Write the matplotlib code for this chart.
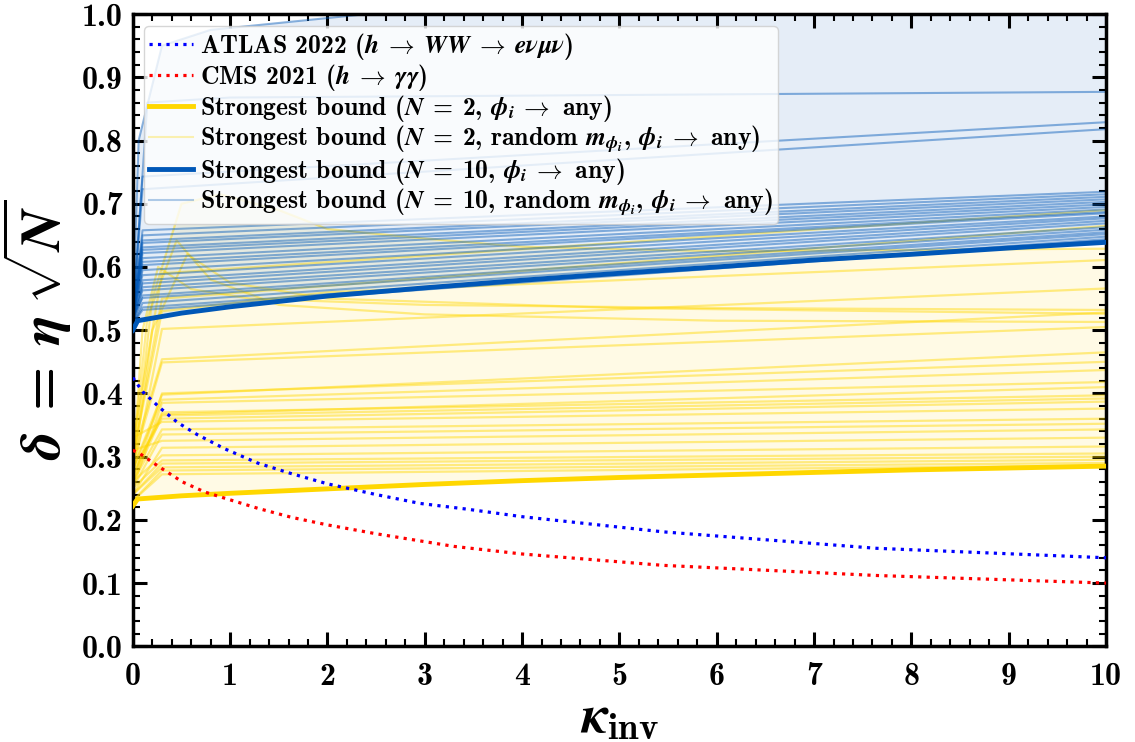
import numpy as np
import matplotlib
matplotlib.use("Agg")
import matplotlib.pyplot as plt
from matplotlib.ticker import MultipleLocator

plt.rcParams['font.family'] = 'cmb10'
plt.rcParams['mathtext.fontset'] = 'custom'
plt.rcParams['mathtext.rm'] = 'cmb10'
plt.rcParams['mathtext.bf'] = 'cmb10'
plt.rcParams['mathtext.it'] = 'STIXGeneral:italic:bold'
plt.rcParams['mathtext.fallback'] = 'cm'
plt.rcParams['axes.unicode_minus'] = False

# experimental limits
atlas_x = [0, 0.1, 0.28, 0.46, 0.66, 0.95, 1.28, 1.61, 2.0, 2.5, 2.95, 3.43, 4.0, 5.45, 7.64, 10]
atlas_y = [0.425, 0.403, 0.377, 0.354, 0.335, 0.312, 0.29, 0.274, 0.257, 0.240, 0.226, 0.217, 0.205, 0.181, 0.155, 0.140]
cms_x = [0, 0.07, 0.26, 0.51, 0.74, 0.95, 1.29, 1.63, 2.0, 2.5, 3.3, 4.0, 5.45, 7.64, 10]
cms_y = [0.31, 0.305, 0.285, 0.26, 0.244, 0.234, 0.218, 0.204, 0.192, 0.178, 0.158, 0.146, 0.128, 0.112, 0.100]

# strongest bounds
bound_x = [0, 0.05, 0.5, 1, 2, 3, 4, 5, 6, 7, 8, 9, 10]
bound2_y = [0.222, 0.233, 0.238, 0.242, 0.249, 0.256, 0.262, 0.267, 0.271, 0.275, 0.279, 0.282, 0.285]
bound10_y = [0.50, 0.515, 0.527, 0.537, 0.554, 0.567, 0.579, 0.590, 0.600, 0.611, 0.620, 0.630, 0.639]

# random masses, N=2 (values at kappa = 0, 0.3, 10)
rand2_x = [0, 0.3, 10]
rand2_start = [0.30, 0.29, 0.28, 0.27, 0.33, 0.26, 0.25, 0.31, 0.24, 0.26, 0.25, 0.24, 0.24, 0.23, 0.23,
               0.27, 0.26, 0.28, 0.25, 0.27, 0.26, 0.28, 0.30, 0.32]
rand2_left = [0.454, 0.449, 0.398, 0.367, 0.355, 0.343, 0.335, 0.325, 0.314, 0.302, 0.294, 0.289, 0.283, 0.278, 0.272,
              0.502, 0.40, 0.39, 0.385, 0.37, 0.365, 0.36, 0.55, 0.59]
rand2_right = [0.528, 0.505, 0.465, 0.41, 0.376, 0.36, 0.352, 0.343, 0.33, 0.316, 0.305, 0.30, 0.295, 0.29, 0.286,
               0.566, 0.45, 0.437, 0.418, 0.397, 0.392, 0.387, 0.665, 0.69]

# random masses, N=2, curved ones
curve2a_x = [0, 0.2, 0.5, 0.9, 1.5, 2, 3, 4, 6, 10]
curve2a_y = [0.28, 0.55, 0.70, 0.715, 0.69, 0.66, 0.645, 0.632, 0.625, 0.629]
curve2b_x = [0, 0.15, 0.45, 0.8, 1.5, 3, 6, 10]
curve2b_y = [0.30, 0.52, 0.642, 0.58, 0.54, 0.525, 0.515, 0.513]
curve2c_x = [0, 0.1, 0.26, 0.6, 1.2, 3, 6, 10]
curve2c_y = [0.28, 0.50, 0.60, 0.565, 0.55, 0.54, 0.535, 0.532]
curve2d_x = [0, 0.2, 0.56, 1.0, 2, 5, 10]
curve2d_y = [0.27, 0.50, 0.62, 0.575, 0.55, 0.535, 0.526]
curve2e_x = [0, 0.3, 2, 10]
curve2e_y = [0.30, 0.53, 0.56, 0.611]

# random masses, N=10 (values at kappa = 0, 0.1, 10)
rand10_x = [0, 0.1, 10]
rand10_start = [0.53, 0.52, 0.54, 0.51, 0.52, 0.53, 0.51, 0.52, 0.54, 0.51, 0.52, 0.53, 0.51, 0.52, 0.51,
                0.52, 0.51, 0.52, 0.51, 0.51, 0.51, 0.53, 0.52]
rand10_left = [0.658, 0.650, 0.642, 0.638, 0.631, 0.627, 0.622, 0.614, 0.608, 0.603, 0.595, 0.587, 0.579, 0.574, 0.568,
               0.563, 0.555, 0.551, 0.543, 0.536, 0.532, 0.743, 0.723]
rand10_right = [0.719, 0.715, 0.711, 0.707, 0.703, 0.699, 0.695, 0.691, 0.687, 0.685, 0.680, 0.677, 0.673, 0.669, 0.663,
                0.659, 0.655, 0.652, 0.648, 0.644, 0.642, 0.829, 0.818]
flat10_x = [0, 0.15, 1, 10]
flat10_y = [0.52, 0.86, 0.868, 0.877]
top10_x = [0, 0.06, 0.3, 0.8, 2.4, 10]
top10_y = [0.52, 0.80, 0.95, 0.975, 1.0, 1.1]

yellow = '#FFD700'
blue = '#0057B7'

fig = plt.figure(figsize=(11.35, 7.42), dpi=100)
ax = fig.add_axes([0.117, 0.129, 0.8575, 0.852])

# shaded regions
ax.fill(np.concatenate([bound_x, curve2a_x[::-1]]), np.concatenate([bound2_y, curve2a_y[::-1]]),
        color=yellow, alpha=0.1, lw=0, zorder=1)
ax.fill(np.concatenate([bound_x, top10_x[::-1]]), np.concatenate([bound10_y, top10_y[::-1]]),
        color=blue, alpha=0.1, lw=0, zorder=1)

rand2_kw = dict(lw=1.6, alpha=0.45, zorder=2)
rand10_kw = dict(lw=1.5, alpha=0.45, zorder=2)
for i in range(len(rand2_left)):
    ax.plot(rand2_x, [rand2_start[i], rand2_left[i], rand2_right[i]], color=yellow, **rand2_kw)
for cx, cy in [(curve2a_x, curve2a_y), (curve2b_x, curve2b_y), (curve2c_x, curve2c_y),
               (curve2d_x, curve2d_y), (curve2e_x, curve2e_y)]:
    ax.plot(cx, cy, color=yellow, **rand2_kw)
for i in range(len(rand10_left)):
    ax.plot(rand10_x, [rand10_start[i], rand10_left[i], rand10_right[i]], color=blue, **rand10_kw)
ax.plot(flat10_x, flat10_y, color=blue, **rand10_kw)
ax.plot(top10_x, top10_y, color=blue, **rand10_kw)

ax.plot(bound_x, bound2_y, color=yellow, lw=3.5, zorder=4)
ax.plot(bound_x, bound10_y, color=blue, lw=3.5, zorder=4)
ax.plot(atlas_x, atlas_y, color='blue', ls=':', lw=2.3, zorder=5)
ax.plot(cms_x, cms_y, color='red', ls=':', lw=2.3, zorder=5)

# legend handles
h1, = ax.plot([], [], color='blue', ls=':', lw=2.3,
              label=r'ATLAS 2022 ($h\;\rightarrow\; WW\;\rightarrow\; e\nu\mu\nu$)')
h2, = ax.plot([], [], color='red', ls=':', lw=2.3, label=r'CMS 2021 ($h\;\rightarrow\; \gamma\gamma$)')
h3, = ax.plot([], [], color=yellow, lw=3.5, label=r'Strongest bound ($N\;=\;2$, $\phi_i\;\rightarrow$ any)')
h4, = ax.plot([], [], color=yellow, lw=1.5, alpha=0.3,
              label=r'Strongest bound ($N\;=\;2$, random $m_{\phi_i}$, $\phi_i\;\rightarrow$ any)')
h5, = ax.plot([], [], color=blue, lw=3.5, label=r'Strongest bound ($N\;=\;10$, $\phi_i\;\rightarrow$ any)')
h6, = ax.plot([], [], color=blue, lw=1.5, alpha=0.3,
              label=r'Strongest bound ($N\;=\;10$, random $m_{\phi_i}$, $\phi_i\;\rightarrow$ any)')
leg = ax.legend(handles=[h1, h2, h3, h4, h5, h6], loc='upper left', fontsize=18.5, framealpha=0.8,
                borderaxespad=0.45, labelspacing=0.0, handletextpad=0.25, borderpad=0.2, handlelength=1.7)
leg.set_zorder(10)

ax.set_xlim(0, 10)
ax.set_ylim(0, 1)
ax.xaxis.set_major_locator(MultipleLocator(1))
ax.xaxis.set_minor_locator(MultipleLocator(0.2))
ax.yaxis.set_major_locator(MultipleLocator(0.1))
ax.yaxis.set_minor_locator(MultipleLocator(0.02))
ax.tick_params(which='both', direction='in', top=True, right=True, labelsize=23)
ax.tick_params(which='major', length=10, width=2.2)
ax.tick_params(axis='x', which='major', pad=11)
ax.tick_params(axis='y', which='major', pad=7)
ax.tick_params(which='minor', length=5, width=1.5)
for s in ax.spines.values():
    s.set_linewidth(2.5)

ax.set_xlabel(r'$\kappa_{\mathrm{inv}}$', fontsize=38, labelpad=4)
ax.set_ylabel(r'$\delta\;=\;\eta\;\sqrt{N}$', fontsize=41, labelpad=6)

fig.savefig('out.png', dpi=100)
